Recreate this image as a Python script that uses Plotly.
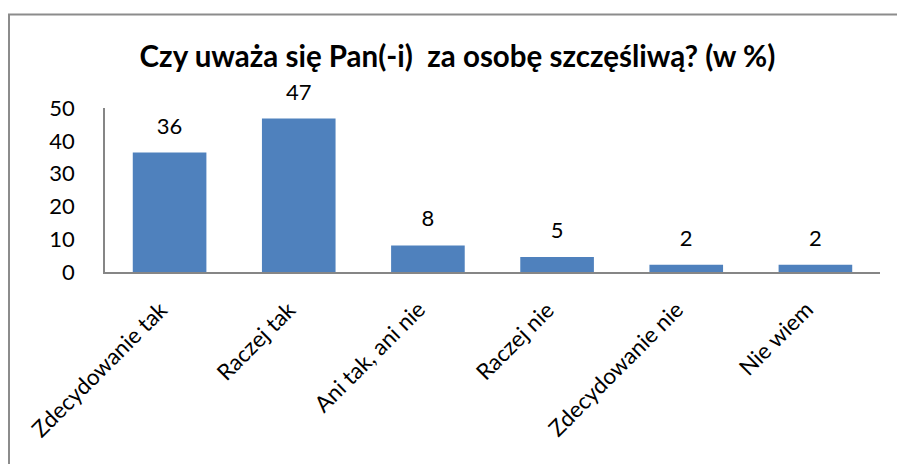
import plotly.graph_objects as go

categories = ["Zdecydowanie tak", "Raczej tak", "Ani tak, ani nie", "Raczej nie", "Zdecydowanie nie", "Nie wiem"]
values = [36.4, 46.8, 8.1, 4.6, 2.2, 2.2]
y_ticks = [0, 10, 20, 30, 40, 50]
title_text = "<b>Czy uważa się Pan(-i)  za osobę szczęśliwą? (w %)</b>"

FONT = "Lato, 'Open Sans', sans-serif"
BAR = "#4F81BD"
AXIS = "#868686"

fig = go.Figure()
fig.add_trace(go.Bar(
    x=categories, y=values,
    marker=dict(color=BAR, line=dict(width=0)),
    width=0.57,
    hoverinfo="skip",
))
fig.add_trace(go.Scatter(
    x=categories, y=values,
    mode="markers+text",
    marker=dict(size=20, opacity=0),
    text=[f"{v:.0f}" for v in values],
    textposition="top center",
    textfont=dict(family=FONT, size=22, color="#000000"),
    cliponaxis=False,
    hoverinfo="skip",
))

W, H = 897, 464
L, R, T, B = 105, 17, 108, 192
pw, ph = W - L - R, H - T - B

def px(x):
    return (x - L) / pw

def py(y):
    return (H - B - y) / ph

annotations = [
    dict(x=c, y=0, xref="x", yref="y", text=c, showarrow=False, textangle=-45,
         xanchor="right", yanchor="top", xshift=5, yshift=-21,
         font=dict(family=FONT, size=22.5, color="#000000"))
    for c in categories
]

fig.update_layout(
    width=W, height=H,
    margin=dict(l=L, r=R, t=T, b=B),
    paper_bgcolor="white", plot_bgcolor="white",
    showlegend=False,
    title=dict(text=title_text, x=0.51, xanchor="center", y=1 - 57 / H, yanchor="middle",
               font=dict(family=FONT, size=29.5, color="#000000")),
    font=dict(family=FONT, size=22, color="#000000"),
    xaxis=dict(
        type="category", categoryorder="array", categoryarray=categories,
        range=[-0.5, len(categories) - 0.5], autorange=False,
        showgrid=False, zeroline=False, showticklabels=False,
        showline=True, linecolor=AXIS, linewidth=2, ticks="",
    ),
    yaxis=dict(
        range=[0, 50], autorange=False, tickvals=y_ticks, showgrid=False, zeroline=False,
        showline=True, linecolor=AXIS, linewidth=1.5, ticks="",
        tickfont=dict(family=FONT, size=22, color="#000000"),
        ticklabelstandoff=24,
    ),
    annotations=annotations,
    shapes=[
        dict(type="line", xref="paper", yref="paper", x0=px(8), x1=px(905), y0=py(14.5), y1=py(14.5),
             line=dict(color="#8C8C8C", width=2)),
        dict(type="line", xref="paper", yref="paper", x0=px(9), x1=px(9), y0=py(14), y1=py(470),
             line=dict(color="#8C8C8C", width=2)),
    ],
)

fig.write_html("out.html", config={"displayModeBar": False},
               post_script="document.body.style.margin='0';document.body.style.overflow='hidden';")
